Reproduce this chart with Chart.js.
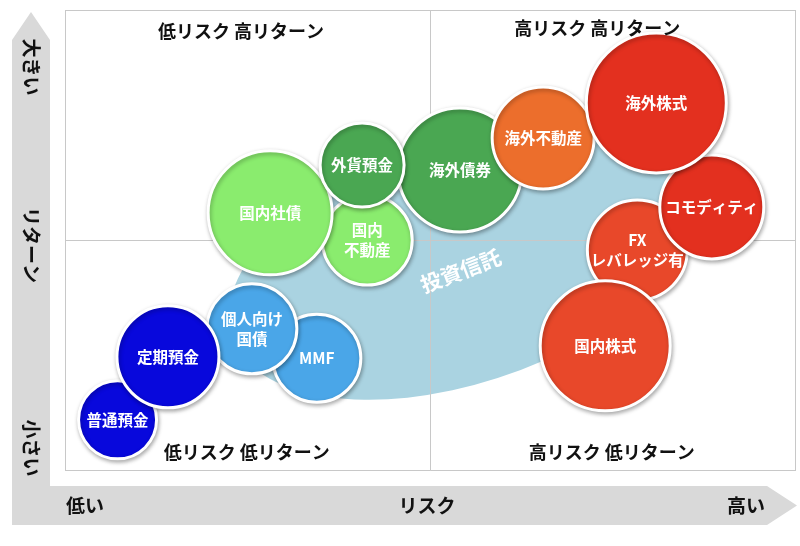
<!DOCTYPE html>
<html><head><meta charset="utf-8">
<script src="https://cdn.jsdelivr.net/npm/chart.js@4/dist/chart.umd.min.js"></script>
<style>html,body{margin:0;padding:0;background:#fff;}</style>
</head><body>
<canvas id="c" width="800" height="546"></canvas>
<script>
// ---- data ----
const products = ['国内不動産','国内社債','海外債券','外貨預金','海外不動産','FX\nレバレッジ有','コモディティ','海外株式','国内株式','MMF','個人向け\n国債','普通預金','定期預金'];
const productLabels = ['国内\n不動産','国内社債','海外債券','外貨預金','海外不動産','FX\nレバレッジ有','コモディティ','海外株式','国内株式','MMF','個人向け\n国債','普通預金','定期預金'];
const riskValues   = [41.4, 28.1, 54.1, 40.7, 65.5, 78.4, 88.6, 81.0, 74.0, 34.5, 25.6, 7.2, 14.1];
const returnValues = [50.0, 55.9, 65.2, 66.3, 72.2, 47.8, 57.2, 79.8, 27.0, 24.3, 30.7, 10.9, 24.6];
const bubbleSizes  = [45, 62, 62, 42, 51, 50, 52, 70, 65, 44, 45, 39, 51];
const bubbleColors = ['#8aec6e','#8aec6e','#4aa752','#4aa752','#ec6e2c','#e8482a','#e3301f','#e3301f','#e8482a','#4aa6e8','#4aa6e8','#0808dc','#0808dc'];
const quadrantLabels = ['低リスク 高リターン','高リスク 高リターン','低リスク 低リターン','高リスク 低リターン'];
const quadrantX = [24.1, 72.9, 24.9, 74.9];
const quadrantY = [95.4, 96.1, 3.9, 3.9];
const riskAxisLabels = ['低い','リスク','高い'];
const returnAxisLabels = ['大きい','リターン','小さい'];
const fundLabel = '投資信託';
const fundCenter = [54.1, 45.2];
const fundLabelPos = [54.2, 43.3];

const FONT = '"Noto Sans CJK JP", "Noto Sans", sans-serif';

const decor = {
  id: 'decor',
  beforeDraw(chart) {
    const {ctx, chartArea: a, scales} = chart;
    ctx.save();
    ctx.fillStyle = '#fff';
    ctx.fillRect(0, 0, chart.width, chart.height);
    // gray L-shaped arrows
    ctx.fillStyle = '#d9d9d9';
    const bx0 = a.left - 53, bx1 = a.left - 15;
    const by0 = a.bottom + 16, by1 = a.bottom + 55;
    ctx.beginPath();
    ctx.moveTo(bx0, by1);
    ctx.lineTo(bx0, a.top + 30);
    ctx.lineTo((bx0 + bx1) / 2, a.top + 2);
    ctx.lineTo(bx1, a.top + 30);
    ctx.lineTo(bx1, by0);
    ctx.lineTo(a.right - 28, by0);
    ctx.lineTo(a.right + 2, (by0 + by1) / 2);
    ctx.lineTo(a.right - 28, by1);
    ctx.closePath();
    ctx.fill();
    // axis texts
    ctx.fillStyle = '#111';
    ctx.font = 'bold 19px ' + FONT;
    ctx.textAlign = 'center';
    ctx.textBaseline = 'middle';
    const my = (by0 + by1) / 2;
    ctx.fillText(riskAxisLabels[0], 85, my);
    ctx.fillText(riskAxisLabels[1], scales.x.getPixelForValue(50) - 3, my);
    ctx.fillText(riskAxisLabels[2], 746, my);
    const mx = (bx0 + bx1) / 2;
    const ys = [67, 245, 448];
    returnAxisLabels.forEach((t, i) => {
      ctx.save();
      ctx.translate(mx, ys[i]);
      ctx.rotate(Math.PI / 2);
      ctx.fillText(t, 0, 0);
      ctx.restore();
    });
    // fund (investment trust) ellipse
    ctx.fillStyle = '#aad3e1';
    ctx.beginPath();
    ctx.ellipse(scales.x.getPixelForValue(fundCenter[0]), scales.y.getPixelForValue(fundCenter[1]), 240, 122, -18 * Math.PI / 180, 0, Math.PI * 2);
    ctx.fill();
    ctx.restore();
  },
  beforeDatasetsDraw(chart) {
    const {ctx, scales} = chart;
    ctx.save();
    ctx.translate(scales.x.getPixelForValue(fundLabelPos[0]), scales.y.getPixelForValue(fundLabelPos[1]));
    ctx.rotate(-21 * Math.PI / 180);
    ctx.fillStyle = '#fff';
    ctx.font = 'bold 21px ' + FONT;
    ctx.textAlign = 'center';
    ctx.textBaseline = 'middle';
    ctx.fillText(fundLabel, 0, 0);
    ctx.restore();
    ctx.save();
    ctx.shadowColor = 'rgba(0,0,0,0.3)';
    ctx.shadowBlur = 4;
    ctx.shadowOffsetX = 1;
    ctx.shadowOffsetY = 2;
  },
  afterDatasetsDraw(chart) {
    const {ctx, scales} = chart;
    ctx.restore();
    const meta = chart.getDatasetMeta(0);
    ctx.save();
    ctx.fillStyle = '#fff';
    ctx.font = 'bold 15.5px ' + FONT;
    ctx.textAlign = 'center';
    ctx.textBaseline = 'middle';
    meta.data.forEach((el, i) => {
      const lines = productLabels[i].split('\n');
      const lh = 20;
      lines.forEach((ln, j) => {
        ctx.fillText(ln, el.x, el.y + (j - (lines.length - 1) / 2) * lh);
      });
    });
    ctx.restore();
    // quadrant labels
    ctx.save();
    ctx.fillStyle = '#111';
    ctx.font = 'bold 18px ' + FONT;
    ctx.textAlign = 'center';
    ctx.textBaseline = 'middle';
    quadrantLabels.forEach((t, i) => {
      ctx.fillText(t, scales.x.getPixelForValue(quadrantX[i]), scales.y.getPixelForValue(quadrantY[i]));
    });
    ctx.restore();
  }
};

new Chart(document.getElementById('c'), {
  type: 'bubble',
  data: {
    labels: products,
    datasets: [{
      data: riskValues.map((x, i) => ({x, y: returnValues[i], r: bubbleSizes[i]})),
      backgroundColor: bubbleColors,
      borderColor: '#ffffff',
      borderWidth: 3,
      clip: false
    }]
  },
  options: {
    responsive: false,
    animation: false,
    devicePixelRatio: 1,
    layout: {autoPadding: false, padding: {left: 65, top: 10, right: 5, bottom: 76}},
    plugins: {legend: {display: false}, tooltip: {enabled: false}},
    scales: {
      x: {type: 'linear', min: 0, max: 100,
          ticks: {display: false, stepSize: 50},
          grid: {color: '#c8c8c8', drawTicks: false, lineWidth: 1},
          border: {display: true, color: '#c8c8c8'}},
      y: {type: 'linear', min: 0, max: 100,
          ticks: {display: false, stepSize: 50},
          grid: {color: '#c8c8c8', drawTicks: false, lineWidth: 1},
          border: {display: true, color: '#c8c8c8'}}
    }
  },
  plugins: [decor]
});
</script>
</body></html>
